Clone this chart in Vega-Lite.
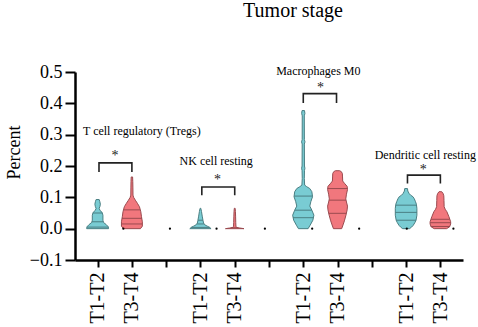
{
  "$schema": "https://vega.github.io/schema/vega-lite/v6.json",
  "width": 388,
  "height": 188,
  "autosize": {"type": "none"},
  "padding": {"left": 75, "top": 72, "right": 15, "bottom": 67},
  "background": "white",
  "title": {"text": "Tumor stage", "frame": "group", "anchor": "middle", "offset": 26, "dx": 24, "baseline": "alphabetic", "fontSize": 20, "fontWeight": "normal", "font": "Liberation Serif", "color": "black"},
  "config": {
    "font": "Liberation Serif",
    "view": {"stroke": null},
    "axis": {"domainColor": "black", "tickColor": "black", "labelColor": "black", "titleColor": "black", "grid": false, "domainWidth": 2.5, "tickWidth": 2, "labelFont": "Liberation Serif", "titleFont": "Liberation Serif", "labelOverlap": false, "labelFlush": false}
  },
  "datasets": {
    "violin": [
      {"v":"treg1","stage":"T1-T2","slot":0,"pct":0,"w":0.32},{"v":"treg1","stage":"T1-T2","slot":0,"pct":0.006,"w":0.31},{"v":"treg1","stage":"T1-T2","slot":0,"pct":0.013,"w":0.25},{"v":"treg1","stage":"T1-T2","slot":0,"pct":0.02,"w":0.17},{"v":"treg1","stage":"T1-T2","slot":0,"pct":0.027,"w":0.155},{"v":"treg1","stage":"T1-T2","slot":0,"pct":0.043,"w":0.155},{"v":"treg1","stage":"T1-T2","slot":0,"pct":0.052,"w":0.13},{"v":"treg1","stage":"T1-T2","slot":0,"pct":0.058,"w":0.07},{"v":"treg1","stage":"T1-T2","slot":0,"pct":0.065,"w":0.045},{"v":"treg1","stage":"T1-T2","slot":0,"pct":0.07,"w":0.065},{"v":"treg1","stage":"T1-T2","slot":0,"pct":0.078,"w":0.08},{"v":"treg1","stage":"T1-T2","slot":0,"pct":0.086,"w":0.065},{"v":"treg1","stage":"T1-T2","slot":0,"pct":0.093,"w":0.045},
      {"v":"treg2","stage":"T3-T4","slot":1,"pct":0,"w":0.25},{"v":"treg2","stage":"T3-T4","slot":1,"pct":0.008,"w":0.305},{"v":"treg2","stage":"T3-T4","slot":1,"pct":0.022,"w":0.305},{"v":"treg2","stage":"T3-T4","slot":1,"pct":0.038,"w":0.28},{"v":"treg2","stage":"T3-T4","slot":1,"pct":0.054,"w":0.26},{"v":"treg2","stage":"T3-T4","slot":1,"pct":0.07,"w":0.22},{"v":"treg2","stage":"T3-T4","slot":1,"pct":0.081,"w":0.16},{"v":"treg2","stage":"T3-T4","slot":1,"pct":0.091,"w":0.1},{"v":"treg2","stage":"T3-T4","slot":1,"pct":0.1,"w":0.05},{"v":"treg2","stage":"T3-T4","slot":1,"pct":0.107,"w":0.032},{"v":"treg2","stage":"T3-T4","slot":1,"pct":0.13,"w":0.029},{"v":"treg2","stage":"T3-T4","slot":1,"pct":0.15,"w":0.026},{"v":"treg2","stage":"T3-T4","slot":1,"pct":0.165,"w":0.02},
      {"v":"nk1","stage":"T1-T2","slot":3,"pct":0,"w":0.31},{"v":"nk1","stage":"T1-T2","slot":3,"pct":0.004,"w":0.27},{"v":"nk1","stage":"T1-T2","slot":3,"pct":0.008,"w":0.2},{"v":"nk1","stage":"T1-T2","slot":3,"pct":0.012,"w":0.13},{"v":"nk1","stage":"T1-T2","slot":3,"pct":0.018,"w":0.09},{"v":"nk1","stage":"T1-T2","slot":3,"pct":0.027,"w":0.073},{"v":"nk1","stage":"T1-T2","slot":3,"pct":0.04,"w":0.052},{"v":"nk1","stage":"T1-T2","slot":3,"pct":0.055,"w":0.03},{"v":"nk1","stage":"T1-T2","slot":3,"pct":0.065,"w":0.01},
      {"v":"nk2","stage":"T3-T4","slot":4,"pct":0,"w":0.27},{"v":"nk2","stage":"T3-T4","slot":4,"pct":0.002,"w":0.15},{"v":"nk2","stage":"T3-T4","slot":4,"pct":0.004,"w":0.05},{"v":"nk2","stage":"T3-T4","slot":4,"pct":0.008,"w":0.035},{"v":"nk2","stage":"T3-T4","slot":4,"pct":0.02,"w":0.03},{"v":"nk2","stage":"T3-T4","slot":4,"pct":0.04,"w":0.025},{"v":"nk2","stage":"T3-T4","slot":4,"pct":0.055,"w":0.02},{"v":"nk2","stage":"T3-T4","slot":4,"pct":0.065,"w":0.012},
      {"v":"mac1","stage":"T1-T2","slot":6,"pct":0,"w":0.14},{"v":"mac1","stage":"T1-T2","slot":6,"pct":0.011,"w":0.2},{"v":"mac1","stage":"T1-T2","slot":6,"pct":0.027,"w":0.28},{"v":"mac1","stage":"T1-T2","slot":6,"pct":0.043,"w":0.31},{"v":"mac1","stage":"T1-T2","slot":6,"pct":0.059,"w":0.25},{"v":"mac1","stage":"T1-T2","slot":6,"pct":0.072,"w":0.19},{"v":"mac1","stage":"T1-T2","slot":6,"pct":0.086,"w":0.22},{"v":"mac1","stage":"T1-T2","slot":6,"pct":0.102,"w":0.27},{"v":"mac1","stage":"T1-T2","slot":6,"pct":0.118,"w":0.25},{"v":"mac1","stage":"T1-T2","slot":6,"pct":0.128,"w":0.19},{"v":"mac1","stage":"T1-T2","slot":6,"pct":0.134,"w":0.1},{"v":"mac1","stage":"T1-T2","slot":6,"pct":0.139,"w":0.04},{"v":"mac1","stage":"T1-T2","slot":6,"pct":0.16,"w":0.03},{"v":"mac1","stage":"T1-T2","slot":6,"pct":0.185,"w":0.035},{"v":"mac1","stage":"T1-T2","slot":6,"pct":0.193,"w":0.048},{"v":"mac1","stage":"T1-T2","slot":6,"pct":0.2,"w":0.035},{"v":"mac1","stage":"T1-T2","slot":6,"pct":0.27,"w":0.032},{"v":"mac1","stage":"T1-T2","slot":6,"pct":0.277,"w":0.05},{"v":"mac1","stage":"T1-T2","slot":6,"pct":0.284,"w":0.032},{"v":"mac1","stage":"T1-T2","slot":6,"pct":0.36,"w":0.03},{"v":"mac1","stage":"T1-T2","slot":6,"pct":0.368,"w":0.048},{"v":"mac1","stage":"T1-T2","slot":6,"pct":0.377,"w":0.035},
      {"v":"mac2","stage":"T3-T4","slot":7,"pct":0,"w":0.12},{"v":"mac2","stage":"T3-T4","slot":7,"pct":0.012,"w":0.16},{"v":"mac2","stage":"T3-T4","slot":7,"pct":0.025,"w":0.2},{"v":"mac2","stage":"T3-T4","slot":7,"pct":0.043,"w":0.245},{"v":"mac2","stage":"T3-T4","slot":7,"pct":0.06,"w":0.28},{"v":"mac2","stage":"T3-T4","slot":7,"pct":0.072,"w":0.29},{"v":"mac2","stage":"T3-T4","slot":7,"pct":0.085,"w":0.26},{"v":"mac2","stage":"T3-T4","slot":7,"pct":0.095,"w":0.24},{"v":"mac2","stage":"T3-T4","slot":7,"pct":0.11,"w":0.26},{"v":"mac2","stage":"T3-T4","slot":7,"pct":0.125,"w":0.29},{"v":"mac2","stage":"T3-T4","slot":7,"pct":0.135,"w":0.28},{"v":"mac2","stage":"T3-T4","slot":7,"pct":0.145,"w":0.2},{"v":"mac2","stage":"T3-T4","slot":7,"pct":0.152,"w":0.15},{"v":"mac2","stage":"T3-T4","slot":7,"pct":0.165,"w":0.145},{"v":"mac2","stage":"T3-T4","slot":7,"pct":0.176,"w":0.14},{"v":"mac2","stage":"T3-T4","slot":7,"pct":0.182,"w":0.11},{"v":"mac2","stage":"T3-T4","slot":7,"pct":0.185,"w":0.06},
      {"v":"dc1","stage":"T1-T2","slot":9,"pct":0,"w":0.1},{"v":"dc1","stage":"T1-T2","slot":9,"pct":0.005,"w":0.16},{"v":"dc1","stage":"T1-T2","slot":9,"pct":0.011,"w":0.21},{"v":"dc1","stage":"T1-T2","slot":9,"pct":0.02,"w":0.26},{"v":"dc1","stage":"T1-T2","slot":9,"pct":0.027,"w":0.29},{"v":"dc1","stage":"T1-T2","slot":9,"pct":0.043,"w":0.315},{"v":"dc1","stage":"T1-T2","slot":9,"pct":0.065,"w":0.315},{"v":"dc1","stage":"T1-T2","slot":9,"pct":0.078,"w":0.3},{"v":"dc1","stage":"T1-T2","slot":9,"pct":0.086,"w":0.275},{"v":"dc1","stage":"T1-T2","slot":9,"pct":0.095,"w":0.24},{"v":"dc1","stage":"T1-T2","slot":9,"pct":0.102,"w":0.2},{"v":"dc1","stage":"T1-T2","slot":9,"pct":0.107,"w":0.13},{"v":"dc1","stage":"T1-T2","slot":9,"pct":0.112,"w":0.09},{"v":"dc1","stage":"T1-T2","slot":9,"pct":0.12,"w":0.05},{"v":"dc1","stage":"T1-T2","slot":9,"pct":0.128,"w":0.04},
      {"v":"dc2","stage":"T3-T4","slot":10,"pct":0,"w":0.18},{"v":"dc2","stage":"T3-T4","slot":10,"pct":0.006,"w":0.27},{"v":"dc2","stage":"T3-T4","slot":10,"pct":0.015,"w":0.3},{"v":"dc2","stage":"T3-T4","slot":10,"pct":0.022,"w":0.3},{"v":"dc2","stage":"T3-T4","slot":10,"pct":0.038,"w":0.25},{"v":"dc2","stage":"T3-T4","slot":10,"pct":0.054,"w":0.19},{"v":"dc2","stage":"T3-T4","slot":10,"pct":0.062,"w":0.14},{"v":"dc2","stage":"T3-T4","slot":10,"pct":0.07,"w":0.11},{"v":"dc2","stage":"T3-T4","slot":10,"pct":0.09,"w":0.105},{"v":"dc2","stage":"T3-T4","slot":10,"pct":0.105,"w":0.1},{"v":"dc2","stage":"T3-T4","slot":10,"pct":0.112,"w":0.08},{"v":"dc2","stage":"T3-T4","slot":10,"pct":0.118,"w":0.04}
    ],
    "quart": [
      {"stage":"T1-T2","slot":0,"pct":0.05,"w":0.14},{"stage":"T1-T2","slot":0,"pct":0.022,"w":0.168},{"stage":"T1-T2","slot":0,"pct":0.005,"w":0.31},
      {"stage":"T3-T4","slot":1,"pct":0.06,"w":0.235},{"stage":"T3-T4","slot":1,"pct":0.033,"w":0.29},{"stage":"T3-T4","slot":1,"pct":0.015,"w":0.305},
      {"stage":"T1-T2","slot":3,"pct":0.027,"w":0.073},{"stage":"T1-T2","slot":3,"pct":0.015,"w":0.1},{"stage":"T1-T2","slot":3,"pct":0.004,"w":0.27},
      {"stage":"T3-T4","slot":4,"pct":0.003,"w":0.1},
      {"stage":"T1-T2","slot":6,"pct":0.104,"w":0.27},{"stage":"T1-T2","slot":6,"pct":0.059,"w":0.25},{"stage":"T1-T2","slot":6,"pct":0.035,"w":0.3},
      {"stage":"T3-T4","slot":7,"pct":0.128,"w":0.29},{"stage":"T3-T4","slot":7,"pct":0.091,"w":0.245},{"stage":"T3-T4","slot":7,"pct":0.049,"w":0.255},
      {"stage":"T1-T2","slot":9,"pct":0.075,"w":0.305},{"stage":"T1-T2","slot":9,"pct":0.052,"w":0.315},{"stage":"T1-T2","slot":9,"pct":0.027,"w":0.29},
      {"stage":"T3-T4","slot":10,"pct":0.03,"w":0.27},{"stage":"T3-T4","slot":10,"pct":0.019,"w":0.3},{"stage":"T3-T4","slot":10,"pct":0.007,"w":0.28}
    ],
    "dots": [
      {"x":0.75,"pct":0},{"x":2.11,"pct":0},{"x":3.47,"pct":0},{"x":4.88,"pct":0},{"x":6.26,"pct":0},{"x":7.63,"pct":0},{"x":9.02,"pct":0},{"x":10.38,"pct":0}
    ],
    "brackets": [
      {"g":"treg","o":1,"x":0.04,"pct":0.181},{"g":"treg","o":2,"x":0.04,"pct":0.21},{"g":"treg","o":3,"x":1.0,"pct":0.21},{"g":"treg","o":4,"x":1.0,"pct":0.181},
      {"g":"nk","o":1,"x":3.04,"pct":0.107},{"g":"nk","o":2,"x":3.04,"pct":0.133},{"g":"nk","o":3,"x":4.0,"pct":0.133},{"g":"nk","o":4,"x":4.0,"pct":0.107},
      {"g":"mac","o":1,"x":6.0,"pct":0.401},{"g":"mac","o":2,"x":6.0,"pct":0.431},{"g":"mac","o":3,"x":6.97,"pct":0.431},{"g":"mac","o":4,"x":6.97,"pct":0.401},
      {"g":"dc","o":1,"x":9.04,"pct":0.144},{"g":"dc","o":2,"x":9.04,"pct":0.171},{"g":"dc","o":3,"x":10.0,"pct":0.171},{"g":"dc","o":4,"x":10.0,"pct":0.144}
    ],
    "labels": [
      {"txt":"T cell regulatory (Tregs)","x":1.29,"pct":0.298},
      {"txt":"NK cell resting","x":3.46,"pct":0.203},
      {"txt":"Macrophages M0","x":6.44,"pct":0.489},
      {"txt":"Dendritic cell resting","x":9.56,"pct":0.221}
    ],
    "stars": [
      {"txt":"*","x":0.51,"pct":0.219},{"txt":"*","x":3.5,"pct":0.141},{"txt":"*","x":6.5,"pct":0.435},{"txt":"*","x":9.5,"pct":0.175}
    ]
  },
  "encoding": {
    "y": {"field": "pct", "type": "quantitative", "scale": {"domain": [-0.1, 0.5], "nice": false, "zero": false},
      "axis": {"values": [-0.1, 0, 0.1, 0.2, 0.3, 0.4, 0.5], "format": ".1f", "tickSize": 10, "labelFont": "Liberation Serif", "labelFontSize": 18, "labelPadding": 3, "labelOverlap": false, "title": "Percent", "titleFont": "Liberation Serif", "titleFontSize": 18, "titleFontWeight": "normal", "titleX": -56, "titleY": 80, "titleBaseline": "alphabetic", "titleAngle": 270, "titleAlign": "center"}},
    "x": {"field": "x", "type": "quantitative", "scale": {"domain": [-0.66, 10.66], "nice": false, "zero": false},
      "axis": {"values": [0, 1, 2, 3, 4, 5, 6, 7, 8, 9, 10], "labelExpr": "datum.value % 3 == 0 ? 'T1-T2' : (datum.value % 3 == 1 ? 'T3-T4' : '')", "labelAngle": -90, "labelFont": "Liberation Serif", "labelFontSize": 20, "labelPadding": 5, "tickSize": 7, "title": null, "labelOverlap": false, "labelFlush": false}}
  },
  "layer": [
    {
      "data": {"name": "violin"},
      "transform": [{"calculate": "datum.slot - datum.w", "as": "x"}, {"calculate": "datum.slot + datum.w", "as": "hi"}],
      "mark": {"type": "area", "orient": "horizontal", "strokeWidth": 1, "fillOpacity": 1},
      "encoding": {
        "x2": {"field": "hi"},
        "detail": {"field": "v"},
        "fill": {"field": "stage", "type": "nominal", "scale": {"domain": ["T1-T2", "T3-T4"], "range": ["#79CCD3", "#F1777D"]}, "legend": null},
        "stroke": {"field": "stage", "type": "nominal", "scale": {"domain": ["T1-T2", "T3-T4"], "range": ["#4A7F83", "#9A4A4F"]}, "legend": null}
      }
    },
    {
      "data": {"name": "quart"},
      "transform": [{"calculate": "datum.slot - datum.w", "as": "x"}, {"calculate": "datum.slot + datum.w", "as": "hi"}],
      "mark": {"type": "rule", "strokeWidth": 1},
      "encoding": {
        "x2": {"field": "hi"},
        "stroke": {"field": "stage", "type": "nominal", "legend": null}
      }
    },
    {
      "data": {"name": "dots"},
      "mark": {"type": "point", "shape": "circle", "filled": true, "size": 5, "color": "black", "opacity": 1}
    },
    {
      "data": {"name": "brackets"},
      "mark": {"type": "line", "color": "#222222", "strokeWidth": 1.6},
      "encoding": {
        "detail": {"field": "g"},
        "order": {"field": "o"}
      }
    },
    {
      "data": {"name": "labels"},
      "mark": {"type": "text", "fontSize": 12, "baseline": "alphabetic", "align": "center", "color": "black", "font": "Liberation Serif"},
      "encoding": {
        "text": {"field": "txt"}
      }
    },
    {
      "data": {"name": "stars"},
      "mark": {"type": "text", "fontSize": 14, "baseline": "alphabetic", "align": "center", "color": "#222222", "font": "Liberation Serif"},
      "encoding": {
        "text": {"field": "txt"}
      }
    }
  ]
}
